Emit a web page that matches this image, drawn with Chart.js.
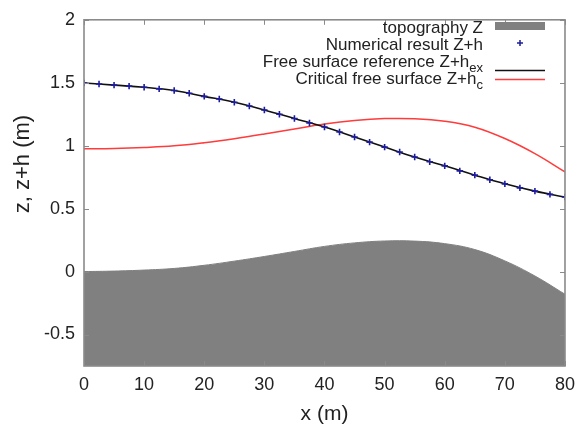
<!DOCTYPE html>
<html>
<head>
<meta charset="utf-8">
<script src="https://cdn.jsdelivr.net/npm/chart.js@4.4.0/dist/chart.umd.min.js"></script>
<style>
html,body{margin:0;padding:0;background:#fff;}
canvas{display:block;}
</style>
</head>
<body>
<canvas id="c" width="583" height="429"></canvas>
<script>
// ---- data ----
const xLine = [0, 5, 10, 15, 20, 25, 30, 35, 40, 45, 50, 55, 60, 65, 70, 75, 80];
const topography = [0, 0.004, 0.012, 0.025, 0.05, 0.083, 0.12, 0.16, 0.2, 0.228, 0.243, 0.242, 0.222, 0.175, 0.085, -0.035, -0.18];
const critical = [0.975, 0.978, 0.986, 0.999, 1.024, 1.056, 1.093, 1.133, 1.172, 1.2, 1.215, 1.214, 1.194, 1.147, 1.057, 0.937, 0.792];
const reference = [1.498, 1.481, 1.464, 1.438, 1.392, 1.345, 1.284, 1.216, 1.148, 1.069, 0.989, 0.91, 0.84, 0.766, 0.697, 0.639, 0.592];
const xNum = [0, 2.5, 5, 7.5, 10, 12.5, 15, 17.5, 20, 22.5, 25, 27.5, 30, 32.5, 35, 37.5, 40, 42.5, 45, 47.5, 50, 52.5, 55, 57.5, 60, 62.5, 65, 67.5, 70, 72.5, 75, 77.5, 80];
const numerical = [1.498, 1.49, 1.481, 1.473, 1.464, 1.451, 1.438, 1.417, 1.392, 1.371, 1.345, 1.315, 1.284, 1.25, 1.216, 1.18, 1.148, 1.109, 1.069, 1.028, 0.989, 0.95, 0.91, 0.872, 0.84, 0.8, 0.766, 0.729, 0.697, 0.665, 0.639, 0.613, 0.592];
const xTicks = [0, 10, 20, 30, 40, 50, 60, 70, 80];
const yTicks = [-0.5, 0, 0.5, 1, 1.5, 2];
const legendLabels = [
  {text: 'topography Z', sub: ''},
  {text: 'Numerical result Z+h', sub: ''},
  {text: 'Free surface reference Z+h', sub: 'ex'},
  {text: 'Critical free surface Z+h', sub: 'c'}
];
const xTitle = 'x (m)';
const yTitle = 'z, z+h (m)';

const pts = (xs, ys) => xs.map((x, i) => ({x: x, y: ys[i]}));
const FONT = "'Liberation Sans', Arial, Helvetica, sans-serif";
const TEXT = '#222';
const FRAME = '#8a8a8a';

const framePlugin = {
  id: 'frameAndKey',
  afterDraw(chart) {
    const ctx = chart.ctx, a = chart.chartArea;
    const xs = chart.scales.x, ys = chart.scales.y;
    ctx.save();
    // frame
    ctx.strokeStyle = FRAME;
    ctx.lineWidth = 1.6;
    ctx.strokeRect(a.left, a.top, a.right - a.left, a.bottom - a.top);
    // inward ticks on all sides
    ctx.lineWidth = 1;
    ctx.beginPath();
    xTicks.forEach(v => {
      const px = Math.round(xs.getPixelForValue(v)) + 0.5;
      ctx.moveTo(px, a.bottom); ctx.lineTo(px, a.bottom - 5);
      ctx.moveTo(px, a.top); ctx.lineTo(px, a.top + 5);
    });
    yTicks.forEach(v => {
      const py = Math.round(ys.getPixelForValue(v)) + 0.5;
      ctx.moveTo(a.left, py); ctx.lineTo(a.left + 5, py);
      ctx.moveTo(a.right, py); ctx.lineTo(a.right - 5, py);
    });
    ctx.stroke();

    // axis titles
    ctx.fillStyle = TEXT;
    ctx.font = '21px ' + FONT;
    ctx.textAlign = 'center';
    ctx.textBaseline = 'middle';
    ctx.fillText(xTitle, (a.left + a.right) / 2, 414);
    ctx.save();
    ctx.translate(23, 164);
    ctx.rotate(-Math.PI / 2);
    ctx.font = '22px ' + FONT;
    ctx.fillText(yTitle, 0, 0);
    ctx.restore();

    // key (legend)
    const rightX = 483;
    const baselines = [32.5, 49.5, 66.5, 83.5];
    const mainFont = '17px ' + FONT, subFont = '13px ' + FONT;
    ctx.textBaseline = 'alphabetic';
    ctx.textAlign = 'left';
    legendLabels.forEach((L, i) => {
      ctx.font = subFont;
      const sw = L.sub ? ctx.measureText(L.sub).width : 0;
      ctx.font = mainFont;
      const mw = ctx.measureText(L.text).width;
      const x0 = rightX - mw - sw;
      ctx.fillText(L.text, x0, baselines[i]);
      if (L.sub) {
        ctx.font = subFont;
        ctx.fillText(L.sub, x0 + mw, baselines[i] + 5);
      }
    });
    const sx0 = 495, sx1 = 545;
    // topography sample
    ctx.fillStyle = '#808080';
    ctx.fillRect(sx0, 22, sx1 - sx0, 8);
    // numerical marker
    ctx.strokeStyle = '#1c1c9c';
    ctx.lineWidth = 1.5;
    ctx.beginPath();
    ctx.moveTo(520 - 3, 43); ctx.lineTo(520 + 3, 43);
    ctx.moveTo(520, 43 - 3); ctx.lineTo(520, 43 + 3);
    ctx.stroke();
    // reference line sample
    ctx.strokeStyle = '#111';
    ctx.lineWidth = 1.5;
    ctx.beginPath(); ctx.moveTo(sx0, 70.5); ctx.lineTo(sx1, 70.5); ctx.stroke();
    // critical line sample
    ctx.strokeStyle = '#ff3b3b';
    ctx.beginPath(); ctx.moveTo(sx0, 79.5); ctx.lineTo(sx1, 79.5); ctx.stroke();
    ctx.restore();
  }
};

new Chart(document.getElementById('c'), {
  type: 'line',
  data: {
    datasets: [
      {
        label: legendLabels[0].text,
        data: pts(xLine, topography),
        borderColor: '#808080',
        backgroundColor: '#808080',
        borderWidth: 1,
        pointRadius: 0,
        fill: 'start',
        tension: 0.4,
        order: 4
      },
      {
        label: legendLabels[3].text,
        data: pts(xLine, critical),
        borderColor: '#ff3b3b',
        borderWidth: 1.5,
        pointRadius: 0,
        fill: false,
        tension: 0.4,
        order: 3
      },
      {
        label: legendLabels[2].text,
        data: pts(xLine, reference),
        borderColor: '#111',
        borderWidth: 1.6,
        pointRadius: 0,
        fill: false,
        tension: 0.4,
        order: 2
      },
      {
        label: legendLabels[1].text,
        data: pts(xNum, numerical),
        showLine: false,
        pointStyle: 'cross',
        pointRadius: 3.2,
        pointBorderColor: '#1c1c9c',
        pointBorderWidth: 1.6,
        borderColor: '#1c1c9c',
        order: 1
      }
    ]
  },
  options: {
    responsive: false,
    animation: false,
    devicePixelRatio: 1,
    layout: {padding: {top: 11, right: 17, left: 0, bottom: 0}},
    plugins: {legend: {display: false}, tooltip: {enabled: false}},
    scales: {
      x: {
        type: 'linear',
        min: 0, max: 80,
        afterBuildTicks: s => { s.ticks = xTicks.map(v => ({value: v})); },
        afterFit: s => { s.height = 63; },
        grid: {display: false, drawTicks: false},
        border: {display: false},
        ticks: {color: TEXT, font: {family: FONT, size: 18}, padding: 8, maxRotation: 0,
                callback: v => String(v)}
      },
      y: {
        type: 'linear',
        min: -0.75, max: 2,
        afterBuildTicks: s => { s.ticks = yTicks.map(v => ({value: v})); },
        afterFit: s => { s.width = 84; },
        grid: {display: false, drawTicks: false},
        border: {display: false},
        ticks: {color: TEXT, font: {family: FONT, size: 18}, padding: 9,
                callback: v => String(v)}
      }
    }
  },
  plugins: [framePlugin]
});
</script>
</body>
</html>
